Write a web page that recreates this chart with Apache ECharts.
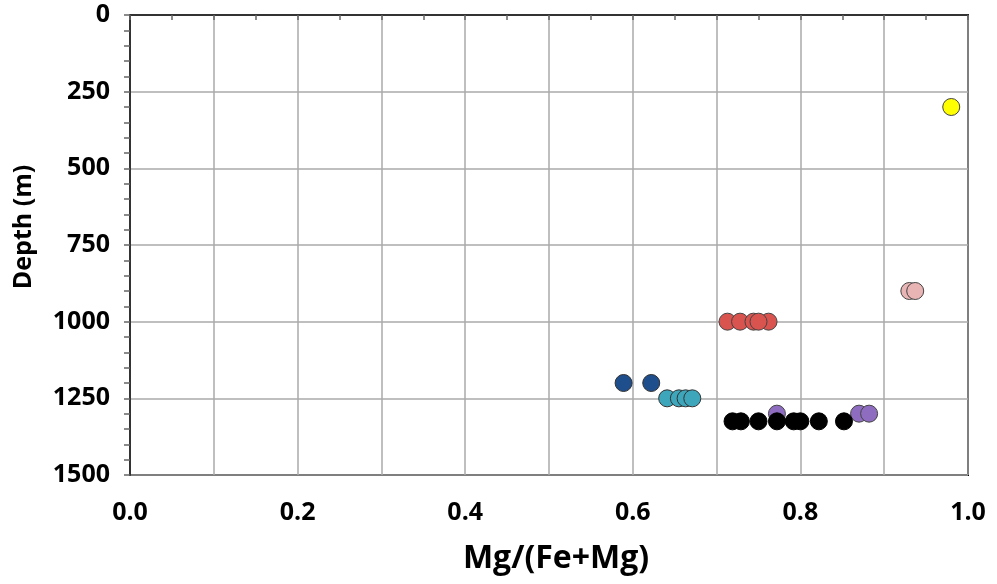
<!DOCTYPE html>
<html>
<head>
<meta charset="utf-8">
<script src="https://cdn.jsdelivr.net/npm/echarts@6/dist/echarts.min.js"></script>
<style>
  html, body { margin: 0; padding: 0; background: #fff; }
  #chart { width: 997px; height: 584px; }
</style>
</head>
<body>
<div id="chart"></div>
<script>
// x = Mg/(Fe+Mg), depth in m
const yellowX = [0.98];
const yellowDepth = [300];
const pinkX = [0.93, 0.937];
const pinkDepth = [900, 900];
const redX = [0.713, 0.728, 0.744, 0.762, 0.75];
const redDepth = [1000, 1000, 1000, 1000, 1000];
const blueX = [0.589, 0.622];
const blueDepth = [1200, 1200];
const tealX = [0.641, 0.655, 0.663, 0.671];
const tealDepth = [1250, 1250, 1250, 1250];
const purpleX = [0.772, 0.87, 0.882];
const purpleDepth = [1300, 1300, 1300];
const blackX = [0.719, 0.729, 0.75, 0.772, 0.792, 0.8, 0.822, 0.852];
const blackDepth = [1325, 1325, 1325, 1325, 1325, 1325, 1325, 1325];

const xTicks = [0.0, 0.2, 0.4, 0.6, 0.8, 1.0];
const yTicks = [0, 250, 500, 750, 1000, 1250, 1500];

function pts(xs, ds) {
  return xs.map(function(x, i) { return [x, ds[i]]; });
}

function dots(name, xs, ds, color, border, z) {
  return {
    name: name,
    type: 'scatter',
    data: pts(xs, ds),
    symbolSize: 17,
    z: z,
    itemStyle: {
      color: color,
      borderColor: border,
      borderWidth: 1,
      opacity: 1
    }
  };
}

let myChart = echarts.init(document.getElementById('chart'));
let font = '"Open Sans", sans-serif';
let option = {
  animation: false,
  grid: {
    left: 130,
    right: 29,
    top: 15,
    bottom: 109,
    show: true,
    borderColor: '#000',
    borderWidth: 2,
    backgroundColor: '#fff'
  },
  xAxis: {
    type: 'value',
    min: 0,
    max: 1,
    interval: 0.1,
    name: 'Mg/(Fe+Mg)',
    nameLocation: 'middle',
    nameGap: 68,
    nameTextStyle: { fontFamily: font, fontSize: 32, fontWeight: 'bold', color: '#000', padding: [0, 0, 0, 14] },
    axisLine: { lineStyle: { color: '#333', width: 2 } },
    axisTick: { show: true, length: 5, lineStyle: { color: '#666', width: 1.5 } },
    minorTick: { show: true, splitNumber: 2, length: 5, lineStyle: { color: '#666', width: 1.5 } },
    axisLabel: {
      margin: 25,
      fontFamily: font,
      fontSize: 25,
      fontWeight: 'bold',
      color: '#000',
      formatter: function(v) {
        let hit = xTicks.find(function(t) { return Math.abs(t - v) < 1e-6; });
        return hit === undefined ? '' : hit.toFixed(1);
      }
    },
    splitLine: { lineStyle: { color: '#aaa', width: 1.5 } }
  },
  yAxis: {
    type: 'value',
    inverse: true,
    min: 0,
    max: 1500,
    interval: 250,
    name: 'Depth (m)',
    nameLocation: 'middle',
    nameGap: 94,
    nameTextStyle: { fontFamily: font, fontSize: 25, fontWeight: 'bold', color: '#000', padding: [0, 0, 0, 36] },
    axisLine: { lineStyle: { color: '#333', width: 2 } },
    axisTick: { show: true, length: 6, lineStyle: { color: '#666', width: 1.5 } },
    minorTick: { show: true, splitNumber: 5, length: 6, lineStyle: { color: '#666', width: 1.5 } },
    axisLabel: {
      margin: 20,
      fontFamily: font,
      fontSize: 25,
      fontWeight: 'bold',
      color: '#000',
      formatter: function(v) {
        return yTicks.indexOf(v) >= 0 ? String(v) : '';
      }
    },
    splitLine: { lineStyle: { color: '#aaa', width: 1.5 } }
  },
  series: [
    dots('yellow', yellowX, yellowDepth, '#ffff00', '#444', 3),
    dots('pink', pinkX, pinkDepth, '#e8b4b4', '#444', 3),
    dots('red', redX, redDepth, '#d9534f', '#444', 3),
    dots('blue', blueX, blueDepth, '#1f4e8c', '#333', 3),
    dots('teal', tealX, tealDepth, '#3ea6bb', '#333', 3),
    dots('purple', purpleX, purpleDepth, '#8e6cbf', '#444', 3),
    dots('black', blackX, blackDepth, '#000', '#000', 4)
  ]
};
myChart.setOption(option);
window.addEventListener('resize', function() {
  myChart.resize();
});
</script>
</body>
</html>
